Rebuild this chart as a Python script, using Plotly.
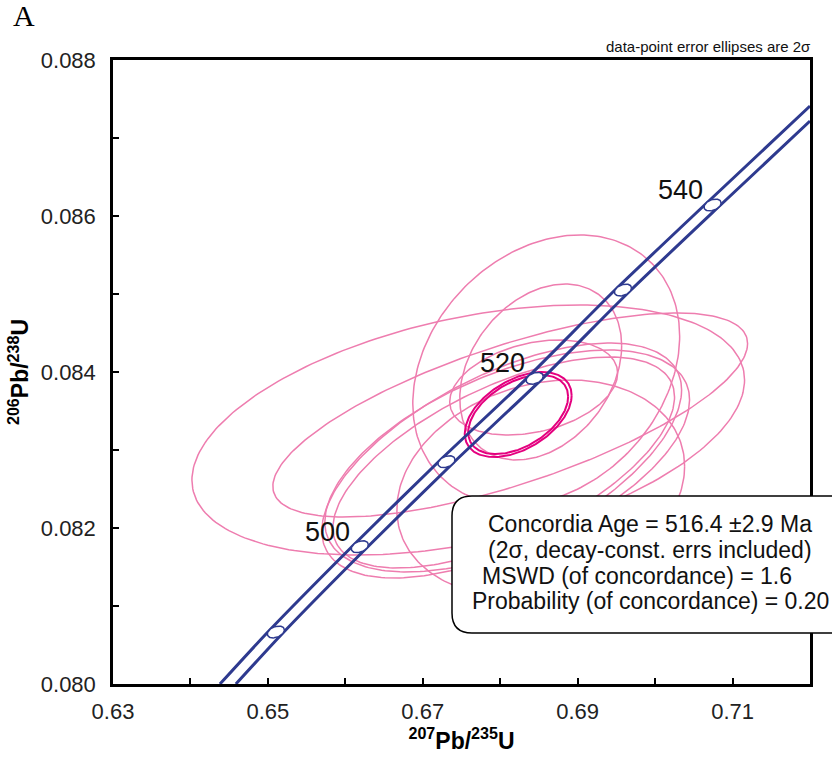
import numpy as np
import plotly.graph_objects as go

# ---------------- data ----------------
# concordia age ticks (Ma) and their positions
ages = [490, 500, 510, 520, 530, 540]
age_x = [0.65103, 0.66187, 0.67306, 0.68445, 0.69585, 0.70742]
age_y = [0.080667, 0.081760, 0.082850, 0.083919, 0.085051, 0.086141]
labeled_ages = [500, 520, 540]

# concordia decay-constant error band (two limbs, slightly curved)
band_upper_x = [0.64381, 0.65000, 0.66084, 0.67203, 0.68342, 0.69482, 0.70639, 0.72000]
band_upper_y = [0.080000, 0.080667, 0.081760, 0.082850, 0.083919, 0.085051, 0.086141, 0.087410]
band_lower_x = [0.64587, 0.65206, 0.66290, 0.67409, 0.68548, 0.69688, 0.70845, 0.72000]
band_lower_y = [0.080000, 0.080667, 0.081760, 0.082850, 0.083919, 0.085051, 0.086141, 0.087218]

# data-point error ellipses: 207Pb/235U, half-width, 206Pb/238U, half-height, rho
ell_x = [0.67587, 0.68129, 0.68594, 0.68523, 0.68019, 0.68090, 0.68045, 0.68523, 0.68432]
ell_sx = [0.03568, 0.03065, 0.01723, 0.01045, 0.02323, 0.02355, 0.02206, 0.01858, 0.01084]
ell_y = [0.083256, 0.083449, 0.084026, 0.084000, 0.082865, 0.082859, 0.082840, 0.082513, 0.083801]
ell_sy = [0.001603, 0.001308, 0.001731, 0.001128, 0.001506, 0.001423, 0.001353, 0.001385, 0.000609]
ell_rho = [0.40, 0.70, 0.25, 0.30, 0.60, 0.55, 0.62, 0.20, 0.30]

# concordia age ellipse (double outline)
conc_x = [0.68232, 0.68232]
conc_sx = [0.00690, 0.00645]
conc_y = [0.083455, 0.083455]
conc_sy = [0.000545, 0.000507]
conc_rho = [0.45, 0.45]

x_ticks = [0.63, 0.65, 0.67, 0.69, 0.71]
x_minor = [0.64, 0.66, 0.68, 0.70]
y_ticks = [0.080, 0.082, 0.084, 0.086, 0.088]
y_minor = [0.081, 0.083, 0.085, 0.087]

box_lines = [
    "Concordia Age = 516.4 \u00b12.9 Ma",
    "(2\u03c3, decay-const. errs included)",
    "MSWD (of concordance) = 1.6",
    "Probability (of concordance) = 0.20",
]

# ---------------- styles ----------------
PINK = "#EE7DAF"
MAGENTA = "#E4007F"
BLUE = "#2E3A8F"
FONT = "Liberation Sans, Arial, sans-serif"
MARK_SX, MARK_SY, MARK_RHO = 0.00110, 0.000076, 0.35


def ellipse(cx, sx, cy, sy, rho, n=241):
    t = np.linspace(0, 2 * np.pi, n)
    x = cx + sx * np.cos(t)
    y = cy + sy * (rho * np.cos(t) + np.sqrt(1 - rho ** 2) * np.sin(t))
    return x, y


fig = go.Figure()

for cx, sx, cy, sy, r in zip(ell_x, ell_sx, ell_y, ell_sy, ell_rho):
    ex, ey = ellipse(cx, sx, cy, sy, r)
    fig.add_trace(go.Scatter(x=ex, y=ey, mode="lines",
                             line=dict(color=PINK, width=1.5),
                             hoverinfo="skip", showlegend=False))

for cx, sx, cy, sy, r in zip(conc_x, conc_sx, conc_y, conc_sy, conc_rho):
    ex, ey = ellipse(cx, sx, cy, sy, r)
    fig.add_trace(go.Scatter(x=ex, y=ey, mode="lines",
                             line=dict(color=MAGENTA, width=2),
                             hoverinfo="skip", showlegend=False))

for bx, by in ((band_upper_x, band_upper_y), (band_lower_x, band_lower_y)):
    fig.add_trace(go.Scatter(x=bx, y=by, mode="lines",
                             line=dict(color=BLUE, width=3, shape="spline",
                                       smoothing=0.6),
                             hoverinfo="skip", showlegend=False))

for ax_, ay_ in zip(age_x, age_y):
    ex, ey = ellipse(ax_, MARK_SX, ay_, MARK_SY, MARK_RHO, 61)
    fig.add_trace(go.Scatter(x=ex, y=ey, mode="lines", fill="toself",
                             fillcolor="white",
                             line=dict(color=BLUE, width=1.5),
                             hoverinfo="skip", showlegend=False))

annotations = []
for a, ax_, ay_ in zip(ages, age_x, age_y):
    if a in labeled_ages:
        annotations.append(dict(x=ax_, y=ay_, xref="x", yref="y", text=str(a),
                                showarrow=False, xshift=-32, yshift=15,
                                font=dict(family=FONT, size=27, color="#111")))

# panel letter and caption
annotations.append(dict(x=-0.147, y=1.071, xref="paper", yref="paper", text="A",
                        showarrow=False, xanchor="left", yanchor="middle",
                        font=dict(family="Liberation Serif, Times New Roman, serif",
                                  size=30, color="black")))
annotations.append(dict(x=1.0043, y=1.0216, xref="paper", yref="paper",
                        text="data-point error ellipses are 2\u03c3",
                        showarrow=False, xanchor="right", yanchor="middle",
                        font=dict(family=FONT, size=15, color="#111")))

# results box text
W, H, L, B = 697.0, 624.0, 113.0, 684.0


def px(xp):
    return (xp - L) / W


def py(yp):
    return (B - yp) / H


line_cx = [650, 650, 637, 650]
line_cy = [524, 550, 576, 601]
for txt, cxp, cyp in zip(box_lines, line_cx, line_cy):
    annotations.append(dict(x=px(cxp), y=py(cyp), xref="paper", yref="paper",
                            text=txt, showarrow=False, xanchor="center",
                            yanchor="middle",
                            font=dict(family=FONT, size=23, color="#111")))

# rounded box
l, r, t, b, rad = 452, 850, 496, 633, 20


def P(xp, yp):
    return f"{px(xp):.5f},{py(yp):.5f}"


path = (f"M {P(l + rad, t)} L {P(r - rad, t)} Q {P(r, t)} {P(r, t + rad)} "
        f"L {P(r, b - rad)} Q {P(r, b)} {P(r - rad, b)} L {P(l + rad, b)} "
        f"Q {P(l, b)} {P(l, b - rad)} L {P(l, t + rad)} Q {P(l, t)} {P(l + rad, t)} Z")

fig.update_layout(
    width=832, height=762,
    margin=dict(l=113, r=22, t=60, b=78),
    paper_bgcolor="white", plot_bgcolor="white",
    showlegend=False,
    annotations=annotations,
    shapes=[dict(type="path", path=path, xref="paper", yref="paper",
                 fillcolor="white", line=dict(color="black", width=1.5),
                 layer="above")],
)

fig.update_xaxes(range=[0.63, 0.72], tickvals=x_ticks, tickformat=".2f",
                 ticks="inside", ticklen=6, tickwidth=2, tickcolor="black",
                 minor=dict(tickvals=x_minor, ticks="inside",
                            ticklen=6, tickwidth=2, tickcolor="black"),
                 showline=True, linewidth=2.5, linecolor="black", mirror=True,
                 showgrid=False, zeroline=False,
                 tickfont=dict(family=FONT, size=22, color="#222"),
                 ticklabelstandoff=6,
                 title=dict(text="<b><sup>207</sup>Pb/<sup>235</sup>U</b>",
                            font=dict(family=FONT, size=23, color="black"),
                            standoff=10))
fig.update_yaxes(range=[0.080, 0.088], tickvals=y_ticks, tickformat=".3f",
                 ticks="inside", ticklen=6, tickwidth=2, tickcolor="black",
                 minor=dict(tickvals=y_minor, ticks="inside",
                            ticklen=6, tickwidth=2, tickcolor="black"),
                 showline=True, linewidth=2.5, linecolor="black", mirror=True,
                 showgrid=False, zeroline=False,
                 tickfont=dict(family=FONT, size=22, color="#222"),
                 ticklabelstandoff=10,
                 title=dict(text="<b><sup>206</sup>Pb/<sup>238</sup>U</b>",
                            font=dict(family=FONT, size=23, color="black"),
                            standoff=6))

fig.write_html("out.html")
